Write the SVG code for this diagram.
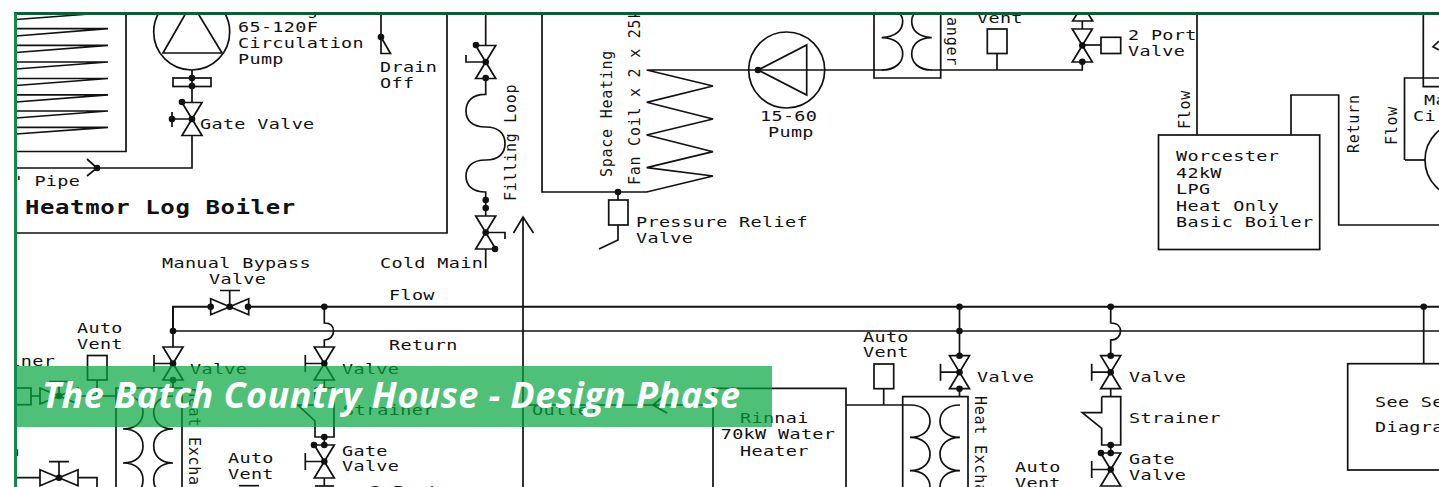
<svg xmlns="http://www.w3.org/2000/svg" xmlns:xlink="http://www.w3.org/1999/xlink" width="1439" height="487" viewBox="0 0 1439 487">
<style>
.l{fill:none;stroke:#111;stroke-width:1.7}
.t{font-family:"DejaVu Sans Mono","Liberation Mono",monospace;font-size:14px;letter-spacing:.26px;fill:#111;transform-box:fill-box;transform-origin:0 50%;transform:scaleX(1.32)}
.v{font-family:"DejaVu Sans Mono","Liberation Mono",monospace;font-size:15px;letter-spacing:.75px;fill:#111}
.b{font-family:"DejaVu Sans Mono","Liberation Mono",monospace;font-size:20px;font-weight:bold;letter-spacing:.5px;fill:#111;transform-box:fill-box;transform-origin:0 50%;transform:scaleX(1.2)}
.d{fill:#111}
.title{font-family:"Open Sans","Noto Sans",sans-serif;font-size:36px;font-weight:bold;font-style:italic;fill:#fff}
</style>
<defs>
<clipPath id="c"><rect x="15" y="13" width="1424" height="474"/></clipPath>
<g id="valve"><path class="l" d="M-10-16.5H10L-10 16.5H10Z"/><circle class="d" r="3.3"/></g>
<g id="hvalve"><path class="l" d="M-19-8V8L19-8V8Z"/><circle class="d" r="3.3"/></g>
<g id="handle"><path class="l" d="M0 0H-19M-19-8.5V8.5"/></g>
<circle id="dot" class="d" r="3.3"/>
</defs>
<rect width="1439" height="487" fill="#fff"/>
<g clip-path="url(#c)">
<g id="connectors">
<path class="l" d="M15 168H192V135M192 103V70"/>
<path class="l" d="M87 159L97 168L87 176"/>
<circle class="d" cx="97" cy="168" r="3.3"/>
<path class="l" d="M381 13V37"/>
<path class="l" d="M485.700 13V45M485.700 78V94.300C472 94 466 102 466 111C466 120 472 127 485.700 127C499 127 505 134 505 143.500C505 153 499 160 485.700 160C472 160 466 167 466 176C466 185 472 192 485.700 192V216M485.700 249V268"/>
<path class="l" d="M523 487V217M513.500 233L523 217L533.500 233"/>
<path class="l" d="M542 13V192H646.700L713 176L646.700 167.700L713 151.700L646.700 135L713 119L646.700 102.300L713 86L646.700 70H873M825 70H884M931 70H1082.300V62"/>
<path class="l" d="M1082.300 21V29"/>
<path class="l" d="M1197 13V135"/>
<path class="l" d="M1291 135V95H1338.700V225H1439"/>
<path class="l" d="M1423.300 13V86.700H1439"/>
<path class="l" d="M1405 160H1425"/>
<path stroke="#111" stroke-width="2" fill="none" d="M173 331V306.700H211M248 306.700H1439"/>
<path class="l" d="M173 331H1439"/>
<path class="l" d="M173 331V347.600M173 380V388"/>
<path class="l" d="M324.300 306.700V323C332 323 333.500 327 333.500 331C333.500 336 330 340 324.300 340V347.600M324.300 380V388M324.300 437V445M324.300 478V486"/>
<path class="l" d="M959.500 306.700V355.700M959.500 388.700V396.700"/>
<path class="l" d="M1110.700 306.700V323C1118 323 1120.500 327 1120.500 331C1120.500 336 1117 340 1110.700 340V355.700M1110.700 388.700V396.700M1110.700 445V453"/>
<path class="l" d="M1423.700 306.700V363.700"/>
<path class="l" d="M846 405H910"/>
<path class="l" d="M523 405H713M667 413L653 405L665 395"/>
<path class="l" d="M31 396H40M78 396H116M97 380V396"/>
<path class="l" d="M15 477.700H40M78 477.700H97V487"/>
</g>
<g id="log-boiler">
<path class="l" d="M15 233H447V13M126 13V151.500H15"/>
<path class="l" d="M16 19.500L90 14M108 28.700H16M108 28.700L16 36M108 45.300H16M108 45.300L16 52.500M108 62H16M108 62L16 69M108 78.500H16M108 78.500L16 85.500M108 94.800H16M108 94.800L16 102M108 111H16M108 111L16 118M108 127.300H16M108 127.300L16 134"/>
<text class="t" x="11.500" y="186">" Pipe</text>
<text class="b" x="25" y="214">Heatmor Log Boiler</text>
</g>
<g id="circulation-pump">
<circle class="l" cx="191.700" cy="32" r="38"/>
<path class="l" d="M191.700 3L163 53H222Z"/>
<rect class="l" x="173" y="78" width="38" height="8.500"/>
<use href="#dot" x="192" y="78"/><use href="#dot" x="192" y="86"/>
<text class="t" x="238" y="15">Smoothgear</text>
<text class="t" x="238" y="32.500">65-120F</text>
<text class="t" x="238" y="48">Circulation</text>
<text class="t" x="238" y="64">Pump</text>
</g>
<g id="gate-valve-1">
<use href="#valve" x="192" y="119"/><use href="#dot" x="182" y="102"/>
<path class="l" d="M192 119H172M172 112V127"/><use href="#dot" x="172" y="119"/>
<text class="t" x="200" y="129">Gate Valve</text>
</g>
<g id="drain">
<path class="l" d="M381 37V53.500H390.500Z"/><use href="#dot" x="381" y="37"/>
<text class="t" x="380" y="72">Drain</text><text class="t" x="380" y="88">Off</text>
</g>
<g id="filling-loop">
<use href="#valve" x="485.700" y="62"/><use href="#dot" x="476" y="45"/><use href="#dot" x="485.700" y="78"/>
<path class="l" d="M485.700 62H466V55"/>
<use href="#dot" x="485.700" y="200"/><use href="#dot" x="485.700" y="208"/>
<use href="#valve" x="485.700" y="232.500"/><use href="#dot" x="495" y="249"/>
<path class="l" d="M485.700 232.500H505V239"/>
<text class="v" transform="translate(516 201) rotate(-90)">Filling Loop</text>
<text class="t" x="380" y="268">Cold Main</text>
</g>
<g id="fan-coil">
<text class="v" transform="translate(611.500 177) rotate(-90)">Space Heating</text>
<text class="v" transform="translate(640 185) rotate(-90)">Fan Coil x 2 x 25kW</text>
</g>
<g id="pressure-relief">
<use href="#dot" x="618" y="192"/>
<path class="l" d="M618 192V200M618 225V240L599 249"/>
<rect class="l" x="608.700" y="200" width="19.300" height="25"/>
<text class="t" x="636" y="227">Pressure Relief</text><text class="t" x="636" y="243">Valve</text>
</g>
<g id="pump-15-60">
<circle class="l" cx="786.700" cy="70" r="38"/>
<path class="l" d="M758 70L806.700 45V95Z"/><use href="#dot" x="758" y="70"/>
<text class="t" x="760" y="121">15-60</text><text class="t" x="768" y="137">Pump</text>
</g>
<g id="exchanger-top">
<path class="l" d="M874 13V78H940.700V13"/>
<path class="l" d="M881.700 70C896 70 902.700 62 902.700 54C902.700 45 896 38 881.700 37.700C896 37 902.700 30 902.700 21C902.700 16 900 13 896 10"/>
<path class="l" d="M931.700 70C918 70 911.700 62 911.700 54C911.700 45 918 38 931.700 37.700C918 37 911.700 30 911.700 21C911.700 16 914 13 918 10"/>
<text class="v" text-anchor="end" transform="translate(947 66) rotate(90)">Heat Exchanger</text>
</g>
<g id="vent-top">
<rect class="l" x="987.300" y="29" width="19.700" height="24.500"/>
<path class="l" d="M997 53.500V70"/>
<text class="t" x="977" y="23">Vent</text>
</g>
<g id="two-port-top">
<path class="l" d="M1072.700 21H1092.700L1082.500 5Z"/>
<use href="#valve" x="1082.300" y="45.500"/><use href="#dot" x="1082.300" y="61.700"/>
<path class="l" d="M1082.300 45H1101"/>
<rect class="l" x="1101" y="37.300" width="19.700" height="16.200"/>
<text class="t" x="1103.500" y="15">Valve</text>
<text class="t" x="1128" y="40">2 Port</text><text class="t" x="1128" y="56">Valve</text>
</g>
<g id="worcester">
<rect class="l" x="1158.500" y="135" width="161.200" height="114.500"/>
<text class="t" x="1176" y="161.500">Worcester</text>
<text class="t" x="1176" y="178">42kW</text>
<text class="t" x="1176" y="194">LPG</text>
<text class="t" x="1176" y="211">Heat Only</text>
<text class="t" x="1176" y="227">Basic Boiler</text>
<text class="v" transform="translate(1190 129) rotate(-90)">Flow</text>
<text class="v" transform="translate(1359 153) rotate(-90)">Return</text>
</g>
<g id="main-circulation">
<path class="l" d="M1439 78H1404.500V160"/>
<circle class="l" cx="1463" cy="160" r="38"/>
<path class="l" d="M1439 41L1433 46.700L1439 50"/>
<text class="v" transform="translate(1397 145) rotate(-90)">Flow</text>
<text class="t" x="1424" y="105">Main</text>
<text class="t" x="1413" y="121">Circulation</text>
</g>
<g id="bypass">
<use href="#hvalve" x="229.700" y="306.700"/><use href="#dot" x="210.700" y="306.700"/><use href="#dot" x="248" y="306.700"/>
<path class="l" d="M229.700 306.700V290.500M220 290.500H240"/>
<use href="#dot" x="173" y="331"/><use href="#dot" x="324.300" y="306.700"/>
<text class="t" x="162" y="268">Manual Bypass</text><text class="t" x="209" y="284">Valve</text>
<text class="t" x="389" y="300">Flow</text><text class="t" x="389" y="350">Return</text>
</g>
<g id="left-branch">
<text class="t" x="-36.500" y="366">Strainer</text>
<text class="t" x="8.500" y="456">a</text>
<text class="t" x="77" y="333">Auto</text><text class="t" x="77" y="349">Vent</text>
<rect class="l" x="87.500" y="355.500" width="19.500" height="24.500"/>
<rect class="l" x="14" y="388" width="17" height="16.700"/>
<use href="#hvalve" x="59" y="396"/><path class="l" d="M59 396V381.500M49 381.500H69"/>
<use href="#hvalve" x="59" y="477.700"/><path class="l" d="M59 477.700V461.700M49 461.700H69"/>
</g>
<g id="exchanger-left">
<use href="#valve" x="173" y="363.500"/><use href="#handle" x="173" y="363.500"/><use href="#dot" x="173" y="380"/>
<text class="t" x="190" y="374">Valve</text>
<path class="l" d="M116 487V388H182V487"/>
<path class="l" d="M125 396C137 396 143 403 143 412C143 421 137 429 123 429C137 429 143 437 143 446C143 455 137 463 123 463C137 463 143 471 143 480C143 489 137 496 123 496"/>
<path class="l" d="M173 396C160 396 153.700 403 153.700 412C153.700 421 160 429 173 429C160 429 153.700 437 153.700 446C153.700 455 160 463 173 463C160 463 153.700 471 153.700 480C153.700 489 160 496 173 496"/>
<text class="v" transform="translate(189 388) rotate(90)">Heat Exchanger</text>
<text class="t" x="228" y="463">Auto</text><text class="t" x="228" y="479.500">Vent</text>
<path class="l" d="M239 485.700H259"/>
</g>
<g id="branch-324">
<use href="#valve" x="324.300" y="363.500"/><use href="#handle" x="324.300" y="363.500"/>
<text class="t" x="342" y="374">Valve</text>
<path class="l" d="M315 388H334V437H315V421L298 405H315V388"/>
<text class="t" x="343" y="415">Strainer</text>
<use href="#dot" x="324.300" y="437"/><use href="#dot" x="324.300" y="445"/><use href="#dot" x="314" y="445"/>
<use href="#valve" x="324.300" y="461.500"/><use href="#handle" x="324.300" y="461.500"/>
<text class="t" x="342" y="456">Gate</text><text class="t" x="342" y="471.500">Valve</text>
<path class="l" d="M315 486H334"/>
<text class="t" x="370" y="496">2 Port</text>
</g>
<g id="outlet"><text class="t" x="532" y="415">Outlet</text></g>
<g id="rinnai">
<path class="l" d="M713 487V388.300H846V487"/>
<text class="t" x="740" y="423">Rinnai</text>
<text class="t" x="720.700" y="439.300">70kW Water</text>
<text class="t" x="740" y="455.700">Heater</text>
<text class="t" x="863" y="341.700">Auto</text><text class="t" x="863" y="357">Vent</text>
<rect class="l" x="874" y="364" width="19.700" height="24.700"/>
<path class="l" d="M883.700 388.700V405"/>
</g>
<g id="exchanger-right">
<use href="#dot" x="959.500" y="306.700"/><use href="#dot" x="959.500" y="331"/>
<use href="#valve" x="959.500" y="372.200"/><use href="#handle" x="959.500" y="372.200"/>
<use href="#dot" x="959.500" y="355.700"/><use href="#dot" x="959.500" y="388.700"/>
<text class="t" x="977" y="381.700">Valve</text>
<path class="l" d="M902.700 487V396.700H968V487"/>
<path class="l" d="M910 405C923 405 930 412 930 421C930 430 923 437.300 910 437.300C923 437.300 930 445 930 454C930 463 923 470.700 910 470.700C923 470.700 930 478 930 487"/>
<path class="l" d="M960 405C947 405 940 412 940 421C940 430 947 437.300 960 437.300C947 437.300 940 445 940 454C940 463 947 470.700 960 470.700C947 470.700 940 478 940 487"/>
<text class="v" transform="translate(975 396) rotate(90)">Heat Exchanger</text>
<text class="t" x="1015" y="472">Auto</text><text class="t" x="1015" y="488">Vent</text>
</g>
<g id="branch-1110">
<use href="#dot" x="1110.700" y="306.700"/>
<use href="#valve" x="1110.700" y="372.200"/><use href="#handle" x="1110.700" y="372.200"/><use href="#dot" x="1110.700" y="355.700"/>
<text class="t" x="1129" y="381.700">Valve</text>
<path class="l" d="M1101.700 396.700H1120.700V445H1101.700V428.300L1082.300 412.700H1101.700V396.700"/>
<text class="t" x="1129" y="423">Strainer</text>
<use href="#dot" x="1110.700" y="445"/><use href="#dot" x="1110.700" y="453"/><use href="#dot" x="1101" y="453"/>
<use href="#valve" x="1110.700" y="469.500"/><use href="#handle" x="1110.700" y="469.500"/>
<text class="t" x="1129" y="464">Gate</text><text class="t" x="1129" y="480">Valve</text>
</g>
<g id="see-separate">
<use href="#dot" x="1423.700" y="306.700"/>
<rect class="l" x="1347.700" y="363.700" width="120" height="106.300"/>
<text class="t" x="1375" y="407.300">See Separate</text><text class="t" x="1375" y="431.700">Diagram</text>
</g>
</g>
<g id="banner">
<rect x="15" y="366" width="757" height="61" fill="#04a53e" fill-opacity=".7"/>
<text class="title" x="42" y="408" textLength="698">The Batch Country House - Design Phase</text>
</g>
<path d="M14 13.500H1439" stroke="#0a5e38" stroke-width="3" fill="none"/>
<path d="M15.500 13V487" stroke="#12894f" stroke-width="3" fill="none"/>
</svg>
